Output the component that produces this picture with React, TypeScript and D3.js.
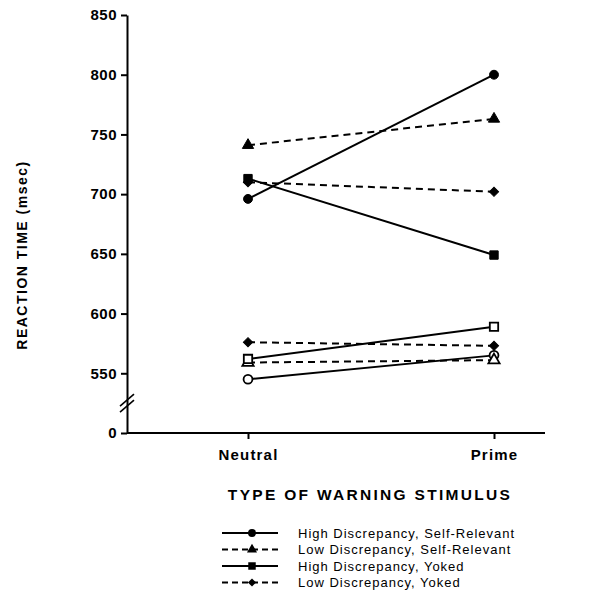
import React, { useEffect, useRef } from 'react'
import * as d3 from 'd3'

const categories = ['Neutral', 'Prime']
const yTicks = [0, 550, 600, 650, 700, 750, 800, 850]

// upper group (filled markers)
const highSelfRelevant = [696, 800]
const lowSelfRelevant = [741, 763]
const highYoked = [713, 649]
const lowYoked = [710, 702]

// lower group (open markers)
const highSelfRelevantOpen = [545, 565]
const lowSelfRelevantOpen = [559, 561]
const highYokedOpen = [562, 589]
const lowYokedOpen = [576, 573]

const legendLabels = [
  'High Discrepancy, Self-Relevant',
  'Low Discrepancy, Self-Relevant',
  'High Discrepancy, Yoked',
  'Low Discrepancy, Yoked',
]

const W = 616
const H = 598
const FONT = '"Liberation Sans", Arial, Helvetica, sans-serif'

export default function App() {
  const svgRef = useRef<SVGSVGElement>(null)

  useEffect(() => {
    const svg = d3.select(svgRef.current)
    svg.selectAll('*').remove()

    const x = d3.scalePoint<string>().domain(categories).range([248, 494])
    // broken axis: everything between 0 and 500 is collapsed onto the baseline
    const y = d3.scaleLinear().domain([0, 500, 850]).range([433, 433, 15])

    // rot: diamond drawn as a square turned 45 degrees
    const styles = [
      { symbol: d3.symbolCircle, size: 62, dashed: false, rot: 0 },
      { symbol: d3.symbolTriangle, size: 55, dashed: true, rot: 0 },
      { symbol: d3.symbolSquare, size: 70, dashed: false, rot: 0 },
      { symbol: d3.symbolSquare, size: 42, dashed: true, rot: 45 },
    ]
    const series = [
      { values: highSelfRelevant, style: 0, filled: true },
      { values: lowSelfRelevant, style: 1, filled: true },
      { values: highYoked, style: 2, filled: true },
      { values: lowYoked, style: 3, filled: true },
      { values: highSelfRelevantOpen, style: 0, filled: false },
      { values: lowSelfRelevantOpen, style: 1, filled: false },
      { values: highYokedOpen, style: 2, filled: false },
      { values: lowYokedOpen, style: 3, filled: true },
    ]

    // axes
    const yAxis = d3
      .axisLeft(y)
      .tickValues(yTicks)
      .tickSize(6)
      .tickSizeOuter(0)
      .tickPadding(4)
    const gy = svg.append('g').attr('transform', 'translate(127,0)').call(yAxis)
    gy.select('.domain').attr('stroke-width', 2)
    gy.selectAll('.tick line').attr('stroke-width', 2)
    gy.selectAll('.tick text')
      .attr('font-family', FONT)
      .attr('font-weight', 'bold')
      .attr('font-size', 15)
      .attr('letter-spacing', 0.5)
      .attr('fill', '#000')

    svg
      .append('line')
      .attr('x1', 127)
      .attr('x2', 545)
      .attr('y1', y(0))
      .attr('y2', y(0))
      .attr('stroke', '#000')
      .attr('stroke-width', 2)

    const xAxis = d3.axisBottom(x).tickSize(6).tickSizeOuter(0).tickPadding(10)
    const gx = svg.append('g').attr('transform', `translate(0,${y(0)})`).call(xAxis)
    gx.select('.domain').remove()
    gx.selectAll('.tick line').attr('stroke-width', 2)
    gx.selectAll('.tick text')
      .attr('font-family', FONT)
      .attr('font-weight', 'bold')
      .attr('font-size', 15)
      .attr('letter-spacing', 1.2)
      .attr('fill', '#000')

    // axis break
    const yb = (y(0) + y(550)) / 2
    svg
      .append('g')
      .attr('stroke', '#000')
      .attr('stroke-width', 1.6)
      .selectAll('line')
      .data([-3, 3])
      .join('line')
      .attr('x1', 120)
      .attr('x2', 134)
      .attr('y1', (d) => yb + d + 6)
      .attr('y2', (d) => yb + d - 6)

    // axis titles
    svg
      .append('text')
      .attr('transform', `translate(27,255) rotate(-90)`)
      .attr('text-anchor', 'middle')
      .attr('font-family', FONT)
      .attr('font-weight', 'bold')
      .attr('font-size', 14)
      .attr('letter-spacing', 1.5)
      .text('REACTION TIME  (msec)')

    svg
      .append('text')
      .attr('x', 370)
      .attr('y', 500)
      .attr('text-anchor', 'middle')
      .attr('font-family', FONT)
      .attr('font-weight', 'bold')
      .attr('font-size', 15.5)
      .attr('letter-spacing', 2.3)
      .text('TYPE OF WARNING STIMULUS')

    // lines
    const lineGen = d3
      .line<number>()
      .x((d, i) => x(categories[i]) as number)
      .y((d) => y(d))

    const plot = svg.append('g')
    series.forEach((s) => {
      const st = styles[s.style]
      plot
        .append('path')
        .attr('d', lineGen(s.values))
        .attr('fill', 'none')
        .attr('stroke', '#000')
        .attr('stroke-width', 2)
        .attr('stroke-dasharray', st.dashed ? '7,5' : null)
    })
    series.forEach((s) => {
      const st = styles[s.style]
      plot
        .append('g')
        .selectAll('path')
        .data(s.values)
        .join('path')
        .attr(
          'transform',
          (d, i) => `translate(${x(categories[i])},${y(d)}) rotate(${st.rot})`
        )
        .attr('d', d3.symbol(st.symbol, st.size)())
        .attr('fill', s.filled ? '#000' : '#fff')
        .attr('stroke', '#000')
        .attr('stroke-width', s.filled ? 1 : 1.8)
    })

    // legend
    const legend = svg
      .append('g')
      .selectAll('g')
      .data(legendLabels)
      .join('g')
      .attr('transform', (d, i) => `translate(222,${533 + i * 16.5})`)
    legend
      .append('line')
      .attr('x1', 0)
      .attr('x2', 56)
      .attr('stroke', '#000')
      .attr('stroke-width', 2)
      .attr('stroke-dasharray', (d, i) => (styles[i].dashed ? '6,4' : null))
    legend
      .append('path')
      .attr('transform', (d, i) => `translate(30,0) rotate(${styles[i].rot})`)
      .attr('d', (d, i) => d3.symbol(styles[i].symbol, styles[i].size * 0.8)())
      .attr('fill', '#000')
    legend
      .append('text')
      .attr('x', 76)
      .attr('dy', '0.35em')
      .attr('font-family', FONT)
      .attr('font-size', 13)
      .attr('letter-spacing', 1)
      .text((d) => d)
  }, [])

  return (
    <div style={{ position: 'absolute', left: 0, top: 0 }}>
      <svg ref={svgRef} width={W} height={H} style={{ display: 'block', background: '#fff' }} />
    </div>
  )
}
